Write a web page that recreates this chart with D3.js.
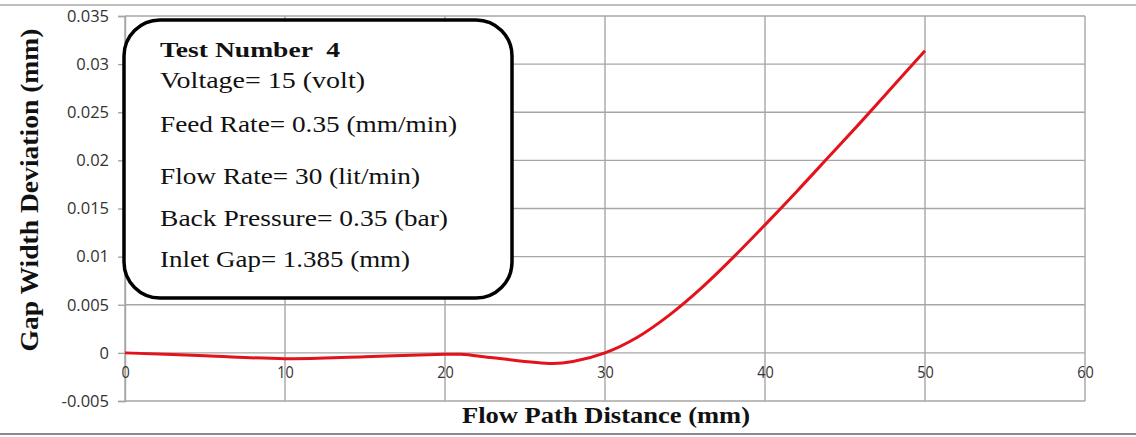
<!DOCTYPE html>
<html>
<head>
<meta charset="utf-8">
<script src="https://cdn.jsdelivr.net/npm/d3@7"></script>
<style>
  body { margin: 0; background: #fff; }
  svg { display: block; }
  .tick text { font-family: 'Open Sans', 'Liberation Sans', sans-serif; fill: #333; }
  .serif { font-family: 'Liberation Serif', 'Times New Roman', Times, serif; fill: #111; }
</style>
</head>
<body>
<svg width="1136" height="437"></svg>
<script>
// Values
const distance = [0, 5, 10, 15, 20, 21, 23, 26.7, 28, 30, 32, 34, 36, 38, 40, 42, 44, 46, 48, 50];
const deviation = [0, -0.0003, -0.0006, -0.0004, -0.00015, -0.00015, -0.0005, -0.0011, -0.0009, 0,
  0.0016, 0.0039, 0.0067, 0.0099, 0.0133, 0.0168, 0.0204, 0.0240, 0.0277, 0.0314];
const xTicks = [0, 10, 20, 30, 40, 50, 60];
const yTicks = [-0.005, 0, 0.005, 0.01, 0.015, 0.02, 0.025, 0.03, 0.035];
const boxLines = [
  { text: 'Test Number  4', bold: true, width: 180 },
  { text: 'Voltage= 15 (volt)', width: 205 },
  { text: 'Feed Rate= 0.35 (mm/min)', width: 297 },
  { text: 'Flow Rate= 30 (lit/min)', width: 260 },
  { text: 'Back Pressure= 0.35 (bar)', width: 288 },
  { text: 'Inlet Gap= 1.385 (mm)', width: 250 }
];
const boxBaselines = [57, 88, 132, 184, 226, 267];

const data = distance.map((d, i) => ({ x: d, y: deviation[i] }));

const svg = d3.select('svg');
const width = +svg.attr('width');

const xScale = d3.scaleLinear().domain([0, 60]).range([125, 1085]);
const yScale = d3.scaleLinear().domain([-0.005, 0.035]).range([401, 16]);

// Outer frame lines (top / bottom)
svg.append('line')
  .attr('x1', 0).attr('x2', width).attr('y1', 5).attr('y2', 5)
  .attr('stroke', '#bdbdbd').attr('stroke-width', 2);
svg.append('line')
  .attr('x1', 0).attr('x2', width).attr('y1', 434).attr('y2', 434)
  .attr('stroke', '#8a8a8a').attr('stroke-width', 2);

// Grid
const grid = svg.append('g').attr('stroke', '#a6a6a6').attr('stroke-width', 1.4);
grid.selectAll('.vgrid')
  .data(xTicks)
  .enter()
  .append('line')
  .attr('x1', (d) => xScale(d)).attr('x2', (d) => xScale(d))
  .attr('y1', yScale(0.035)).attr('y2', yScale(-0.005));
grid.selectAll('.hgrid')
  .data(yTicks)
  .enter()
  .append('line')
  .attr('x1', xScale(0)).attr('x2', xScale(60))
  .attr('y1', (d) => yScale(d)).attr('y2', (d) => yScale(d));

// Left axis
const fmtY = (d) => (d === 0 ? '0' : String(+d.toFixed(3)));
const yAxis = svg.append('g')
  .attr('transform', `translate(${xScale(0)},0)`)
  .call(d3.axisLeft(yScale).tickValues(yTicks).tickFormat(fmtY).tickSize(7).tickPadding(9));
yAxis.select('.domain').attr('stroke', '#a6a6a6').attr('stroke-width', 1.4);
yAxis.selectAll('.tick line').attr('stroke', '#a6a6a6').attr('stroke-width', 1.4);
yAxis.selectAll('.tick text').attr('font-size', 16.5);

// Bottom axis crosses at y = 0
const xAxis = svg.append('g')
  .attr('transform', `translate(0,${yScale(0)})`)
  .call(d3.axisBottom(xScale).tickValues(xTicks).tickSize(0).tickPadding(13));
xAxis.select('.domain').remove();
xAxis.selectAll('.tick text')
  .attr('font-size', 17)
  .attr('transform', 'scale(0.85,1)');

// Curve
svg.append('path')
  .datum(data)
  .attr('fill', 'none')
  .attr('stroke', '#e3121b')
  .attr('stroke-width', 3)
  .attr('d', d3.line()
    .x((d) => xScale(d.x))
    .y((d) => yScale(d.y))
    .curve(d3.curveCatmullRom.alpha(0.5)));

// Info box
svg.append('rect')
  .attr('x', 124).attr('y', 20)
  .attr('width', 388).attr('height', 278)
  .attr('rx', 36).attr('ry', 36)
  .attr('fill', '#fff')
  .attr('stroke', '#000')
  .attr('stroke-width', 3.5);

svg.selectAll('.box-text')
  .data(boxLines)
  .enter()
  .append('text')
  .attr('class', 'serif')
  .attr('x', 160)
  .attr('y', (d, i) => boxBaselines[i])
  .attr('font-size', (d) => (d.bold ? 21 : 23))
  .attr('font-weight', (d) => (d.bold ? 'bold' : 'normal'))
  .attr('textLength', (d) => d.width)
  .attr('lengthAdjust', 'spacingAndGlyphs')
  .style('white-space', 'pre')
  .text((d) => d.text);

// Axis titles
svg.append('text')
  .attr('class', 'serif')
  .attr('transform', 'translate(38,190) rotate(-90)')
  .attr('text-anchor', 'middle')
  .attr('font-weight', 'bold')
  .attr('font-size', 25)
  .attr('textLength', 323)
  .attr('lengthAdjust', 'spacingAndGlyphs')
  .text('Gap Width Deviation (mm)');

svg.append('text')
  .attr('class', 'serif')
  .attr('x', 606)
  .attr('y', 423)
  .attr('text-anchor', 'middle')
  .attr('font-weight', 'bold')
  .attr('font-size', 24)
  .attr('textLength', 288)
  .attr('lengthAdjust', 'spacingAndGlyphs')
  .text('Flow Path Distance (mm)');
</script>
</body>
</html>
